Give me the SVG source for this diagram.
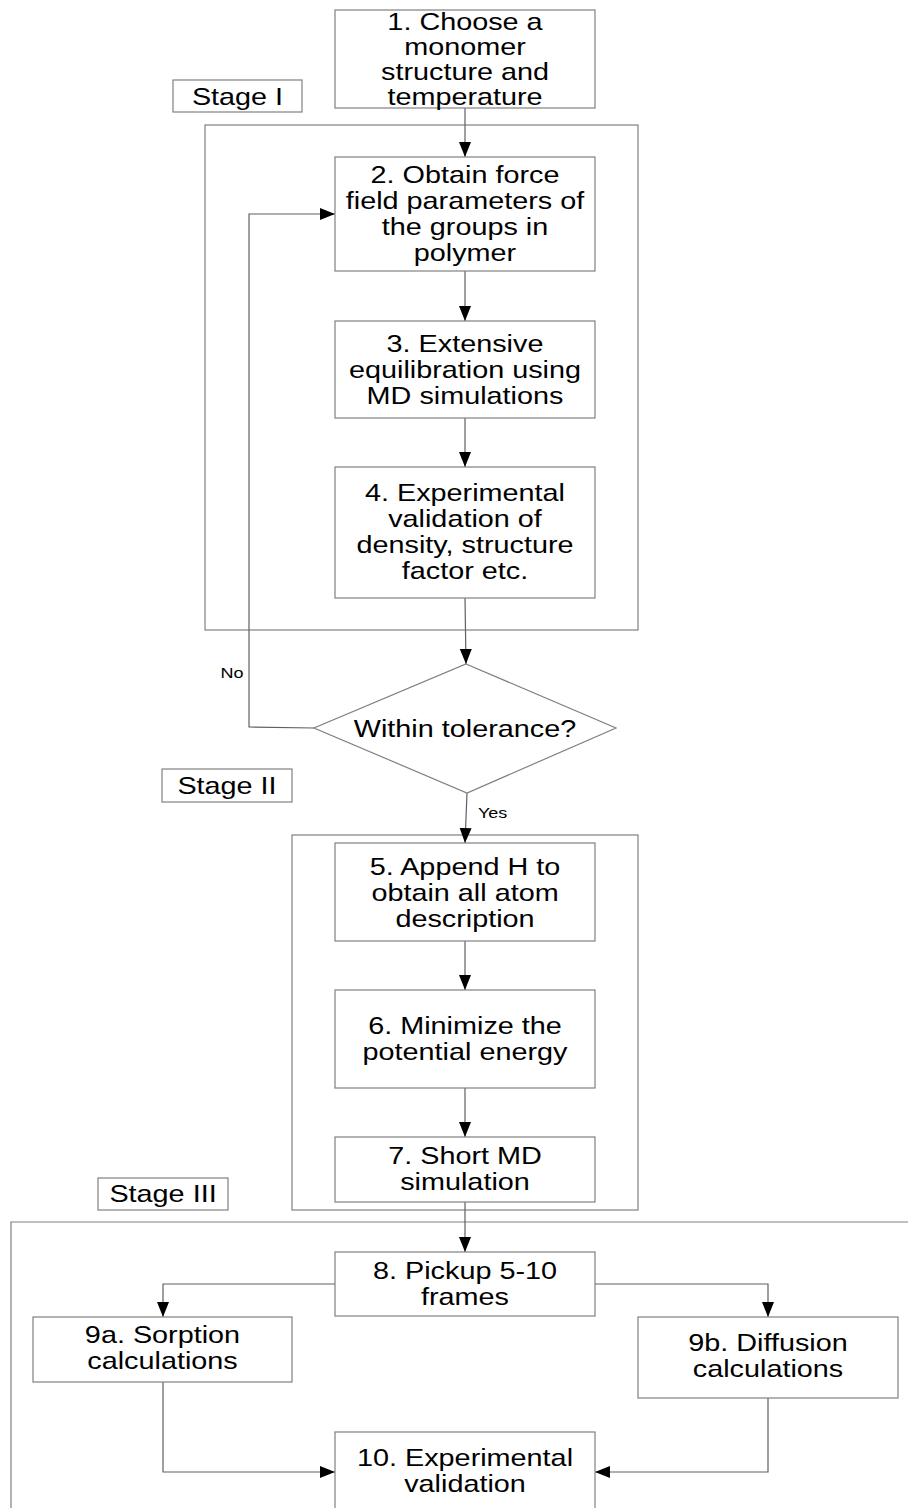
<svg xmlns="http://www.w3.org/2000/svg" width="908" height="1508" viewBox="0 0 908 1508">
  <style>
    .box { fill: #ffffff; stroke: #808080; stroke-width: 1.2; }
    .frame { fill: none; stroke: #808080; stroke-width: 1.2; }
    .link { fill: none; stroke: #606060; stroke-width: 1.2; }
    .t { font-family: "Liberation Sans", Arial, sans-serif; font-size: 24px; fill: #000; text-anchor: middle; }
    .s { font-family: "Liberation Sans", Arial, sans-serif; font-size: 15px; fill: #000; }
  </style>
  <defs>
    <marker id="arrow" markerUnits="userSpaceOnUse" markerWidth="18" markerHeight="14" refX="15" refY="6" orient="auto">
      <path d="M0,0 L15,6 L0,12 Z" fill="#000"/>
    </marker>
  </defs>

  <rect width="908" height="1508" fill="#ffffff"/>

  <!-- stage frames -->
  <g id="frames">
    <rect class="frame" x="205" y="125" width="433" height="505"/>
    <rect class="frame" x="292" y="835" width="346" height="375"/>
    <path class="frame" d="M908,1222 H11 V1508"/>
  </g>

  <!-- connectors -->
  <g id="connectors">
    <path class="link" d="M465,108 V157" marker-end="url(#arrow)"/>
    <path class="link" d="M465,271 V321" marker-end="url(#arrow)"/>
    <path class="link" d="M465,418 V467" marker-end="url(#arrow)"/>
    <path class="link" d="M465,598 L466,664" marker-end="url(#arrow)"/>
    <path class="link" d="M314,728 L249,727 V214 H335" marker-end="url(#arrow)"/>
    <path class="link" d="M467,793 L465,843" marker-end="url(#arrow)"/>
    <path class="link" d="M465,941 V990" marker-end="url(#arrow)"/>
    <path class="link" d="M465,1088 V1137" marker-end="url(#arrow)"/>
    <path class="link" d="M465,1202 V1252" marker-end="url(#arrow)"/>
    <path class="link" d="M335,1284 H163 V1317" marker-end="url(#arrow)"/>
    <path class="link" d="M595,1284 H768 V1317" marker-end="url(#arrow)"/>
    <path class="link" d="M163,1382 V1472 H335" marker-end="url(#arrow)"/>
    <path class="link" d="M768,1398 V1472 H595" marker-end="url(#arrow)"/>
    <text class="s" transform="translate(232,678) scale(1.2,1)" text-anchor="middle">No</text>
    <text class="s" transform="translate(478,818) scale(1.2,1)">Yes</text>
  </g>

  <!-- stage labels -->
  <g id="stage1">
    <rect class="box" x="173" y="80" width="129" height="32"/>
    <text class="t" transform="translate(237.5,105) scale(1.2,1)">Stage I</text>
  </g>
  <g id="stage2">
    <rect class="box" x="162" y="769" width="130" height="33"/>
    <text class="t" transform="translate(227,794) scale(1.2,1)">Stage II</text>
  </g>
  <g id="stage3">
    <rect class="box" x="98" y="1178" width="130" height="32"/>
    <text class="t" transform="translate(163,1202) scale(1.2,1)">Stage III</text>
  </g>

  <!-- process steps -->
  <g id="n1">
    <rect class="box" x="335" y="10" width="260" height="98"/>
    <text class="t" transform="translate(465,30) scale(1.2,1)">
      <tspan x="0" y="0">1. Choose a</tspan><tspan x="0" y="25">monomer</tspan><tspan x="0" y="50">structure and</tspan><tspan x="0" y="75">temperature</tspan>
    </text>
  </g>
  <g id="n2">
    <rect class="box" x="335" y="157" width="260" height="114"/>
    <text class="t" transform="translate(465,183) scale(1.2,1)">
      <tspan x="0" y="0">2. Obtain force</tspan><tspan x="0" y="26">field parameters of</tspan><tspan x="0" y="52">the groups in</tspan><tspan x="0" y="78">polymer</tspan>
    </text>
  </g>
  <g id="n3">
    <rect class="box" x="335" y="321" width="260" height="97"/>
    <text class="t" transform="translate(465,352) scale(1.2,1)">
      <tspan x="0" y="0">3. Extensive</tspan><tspan x="0" y="26">equilibration using</tspan><tspan x="0" y="52">MD simulations</tspan>
    </text>
  </g>
  <g id="n4">
    <rect class="box" x="335" y="467" width="260" height="131"/>
    <text class="t" transform="translate(465,501) scale(1.2,1)">
      <tspan x="0" y="0">4. Experimental</tspan><tspan x="0" y="26">validation of</tspan><tspan x="0" y="52">density, structure</tspan><tspan x="0" y="78">factor etc.</tspan>
    </text>
  </g>
  <g id="decision">
    <polygon class="box" points="466,664 616,728 467,793 314,728"/>
    <text class="t" transform="translate(465,737) scale(1.2,1)">Within tolerance?</text>
  </g>
  <g id="n5">
    <rect class="box" x="335" y="843" width="260" height="98"/>
    <text class="t" transform="translate(465,875) scale(1.2,1)">
      <tspan x="0" y="0">5. Append H to</tspan><tspan x="0" y="26">obtain all atom</tspan><tspan x="0" y="52">description</tspan>
    </text>
  </g>
  <g id="n6">
    <rect class="box" x="335" y="990" width="260" height="98"/>
    <text class="t" transform="translate(465,1034) scale(1.2,1)">
      <tspan x="0" y="0">6. Minimize the</tspan><tspan x="0" y="26">potential energy</tspan>
    </text>
  </g>
  <g id="n7">
    <rect class="box" x="335" y="1137" width="260" height="65"/>
    <text class="t" transform="translate(465,1164) scale(1.2,1)">
      <tspan x="0" y="0">7. Short MD</tspan><tspan x="0" y="26">simulation</tspan>
    </text>
  </g>
  <g id="n8">
    <rect class="box" x="335" y="1252" width="260" height="64"/>
    <text class="t" transform="translate(465,1279) scale(1.2,1)">
      <tspan x="0" y="0">8. Pickup 5-10</tspan><tspan x="0" y="26">frames</tspan>
    </text>
  </g>
  <g id="n9a">
    <rect class="box" x="33" y="1317" width="259" height="65"/>
    <text class="t" transform="translate(162.5,1343) scale(1.2,1)">
      <tspan x="0" y="0">9a. Sorption</tspan><tspan x="0" y="26">calculations</tspan>
    </text>
  </g>
  <g id="n9b">
    <rect class="box" x="638" y="1317" width="260" height="81"/>
    <text class="t" transform="translate(768,1351) scale(1.2,1)">
      <tspan x="0" y="0">9b. Diffusion</tspan><tspan x="0" y="26">calculations</tspan>
    </text>
  </g>
  <g id="n10">
    <rect class="box" x="335" y="1432" width="260" height="90"/>
    <text class="t" transform="translate(465,1466) scale(1.2,1)">
      <tspan x="0" y="0">10. Experimental</tspan><tspan x="0" y="26">validation</tspan>
    </text>
  </g>
</svg>
